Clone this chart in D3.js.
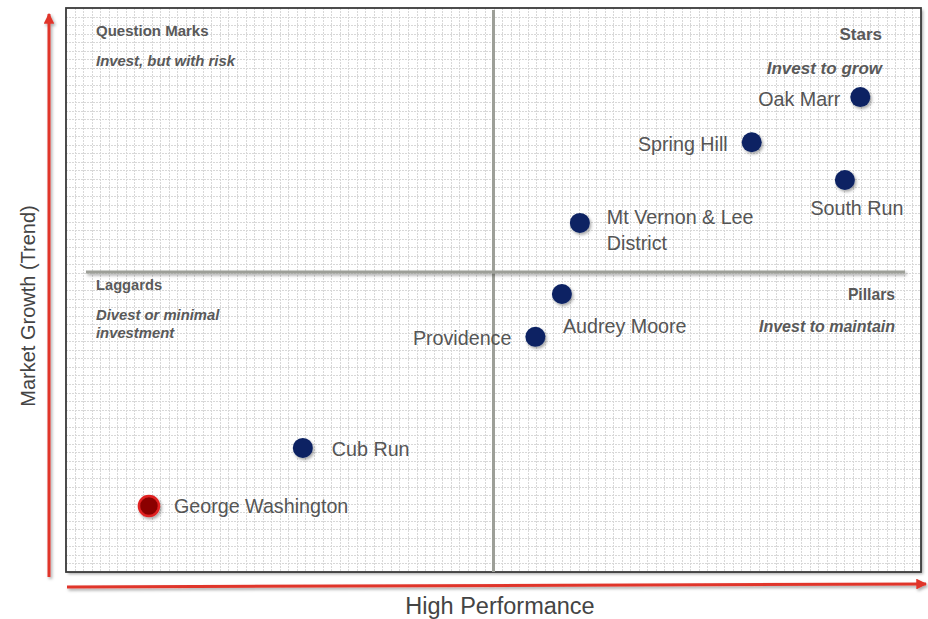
<!DOCTYPE html>
<html><head><meta charset="utf-8">
<script src="https://cdn.jsdelivr.net/npm/d3@7"></script>
<style>body{margin:0;background:#fff;}svg{display:block;font-family:"Liberation Sans",Arial,sans-serif;}</style>
</head><body><svg id="c" width="928" height="619"></svg>
<script>
const names = ["Oak Marr","Spring Hill","South Run","Mt Vernon & Lee District","Audrey Moore","Providence","Cub Run","George Washington"];
const performance = [9.29, 8.02, 9.11, 6.01, 5.80, 5.49, 2.77, 0.97];
const growth = [8.42, 7.62, 6.95, 6.19, 4.93, 4.17, 2.20, 1.17];
const highlight = [false,false,false,false,false,false,false,true];
const quadrants = ["Question Marks","Stars","Laggards","Pillars"];
const quadrantNotes = ["Invest, but with risk","Invest to grow","Divest or minimal investment","Invest to maintain"];
const xDivider = 5, yDivider = 5.32;
const xTitle = "High Performance", yTitle = "Market Growth (Trend)";

const svg = d3.select("#c");
const L=66,R=921,T=8,B=572;
const x = d3.scaleLinear().domain([0,10]).range([L,R]);
const y = d3.scaleLinear().domain([0,10]).range([B,T]);

const defs = svg.append("defs");
function shadow(id,dx,dy,sd,op){
  const f = defs.append("filter").attr("id",id).attr("filterUnits","userSpaceOnUse")
    .attr("x",0).attr("y",0).attr("width",928).attr("height",619);
  f.append("feDropShadow").attr("dx",dx).attr("dy",dy).attr("stdDeviation",sd).attr("flood-color","#000").attr("flood-opacity",op);
}
shadow("sh",2,2,1.5,0.35);
shadow("sh2",1.5,2,1.5,0.35);
defs.append("marker").attr("id","ah").attr("viewBox","0 0 10 10").attr("refX",9).attr("refY",5)
  .attr("markerWidth",3.6).attr("markerHeight",3.6).attr("orient","auto")
  .append("path").attr("d","M0,0L10,5L0,10Z").attr("fill","#e0342b");

// box
svg.append("rect").attr("x",L).attr("y",T).attr("width",R-L).attr("height",B-T)
  .attr("fill","#fff").attr("filter","url(#sh)");
// grid
const gx = d3.scaleLinear().domain([0,100]).range([L,R]);
const gy = d3.scaleLinear().domain([0,66]).range([B,T]);
const grid = svg.append("g").attr("stroke","#d8d8d8").attr("stroke-width",1).attr("stroke-dasharray","2,1");
grid.selectAll("line.v").data(d3.range(1,100)).join("line").attr("class","v")
  .attr("x1",d=>Math.round(gx(d))+0.5).attr("x2",d=>Math.round(gx(d))+0.5).attr("y1",T).attr("y2",B);
grid.selectAll("line.h").data(d3.range(1,66)).join("line").attr("class","h")
  .attr("y1",d=>Math.round(gy(d))+0.5).attr("y2",d=>Math.round(gy(d))+0.5).attr("x1",L).attr("x2",R);
svg.append("rect").attr("x",L).attr("y",T).attr("width",R-L).attr("height",B-T)
  .attr("fill","none").attr("stroke","#3a3a3a").attr("stroke-width",1.8);

// dividers
svg.append("line").attr("x1",x(xDivider)).attr("x2",x(xDivider)).attr("y1",T+2).attr("y2",B)
  .attr("stroke","#9d9f98").attr("stroke-width",3);
svg.append("line").attr("x1",86).attr("x2",905).attr("y1",y(yDivider)).attr("y2",y(yDivider))
  .attr("stroke","#9d9f98").attr("stroke-width",3).attr("filter","url(#sh2)");

// quadrant labels
const qpos = [
  {x:96,y:36,a:"start",ny:[66],ts:15,ns:14.9},
  {x:882,y:40,a:"end",ny:[74],ts:17,ns:17},
  {x:96,y:290,a:"start",ny:[320,338],ts:14.7,ns:14.8},
  {x:895,y:300,a:"end",ny:[332],ts:15.7,ns:16}
];
quadrants.forEach((q,i)=>{
  const p=qpos[i];
  svg.append("text").attr("x",p.x).attr("y",p.y).attr("text-anchor",p.a)
    .attr("font-size",p.ts).attr("font-weight","bold").attr("fill","#595959").text(q);
  const note = quadrantNotes[i];
  const lines = p.ny.length>1 ? ["Divest or minimal","investment"] : [note];
  lines.forEach((t,j)=>svg.append("text").attr("x",p.x).attr("y",p.ny[j]).attr("text-anchor",p.a)
    .attr("font-size",p.ns).attr("font-weight","bold").attr("font-style","italic").attr("fill","#595959").text(t));
});

// points
const data = names.map((n,i)=>({n,px:performance[i],gy:growth[i],h:highlight[i]}));
svg.append("g").selectAll("circle").data(data).join("circle")
  .attr("cx",d=>x(d.px)).attr("cy",d=>y(d.gy)).attr("r",10)
  .attr("fill",d=>d.h?"#8b0000":"#0a2263").attr("stroke",d=>d.h?"#e02020":"none").attr("stroke-width",2.5)
  .attr("filter","url(#sh2)");

// labels: offsets relative to point
const lab = {
  "Oak Marr":{dx:-20,dy:9,a:"end"},
  "Spring Hill":{dx:-24,dy:9,a:"end"},
  "South Run":{dx:12,dy:35,a:"middle"},
  "Mt Vernon & Lee District":{dx:27,dy:1,a:"start",lines:["Mt Vernon & Lee","District"]},
  "Audrey Moore":{dx:1,dy:39,a:"start"},
  "Providence":{dx:-24,dy:8,a:"end"},
  "Cub Run":{dx:29,dy:8,a:"start"},
  "George Washington":{dx:25,dy:7,a:"start"}
};
data.forEach(d=>{
  const o=lab[d.n]; const lines=o.lines||[d.n];
  lines.forEach((t,j)=>svg.append("text").attr("x",x(d.px)+o.dx).attr("y",y(d.gy)+o.dy+j*26)
    .attr("text-anchor",o.a).attr("font-size",19.7).attr("fill","#555").text(t));
});

// arrows
svg.append("line").attr("x1",49).attr("x2",49).attr("y1",577).attr("y2",14)
  .attr("stroke","#e0342b").attr("stroke-width",3).attr("marker-end","url(#ah)").attr("filter","url(#sh2)");
svg.append("line").attr("x1",67).attr("x2",926).attr("y1",587).attr("y2",584)
  .attr("stroke","#e0342b").attr("stroke-width",3).attr("marker-end","url(#ah)").attr("filter","url(#sh2)");

svg.append("text").attr("x",500).attr("y",614).attr("text-anchor","middle").attr("font-size",23.5).attr("fill","#444").text(xTitle);
svg.append("text").attr("transform","translate(35,306) rotate(-90)").attr("text-anchor","middle").attr("font-size",20).attr("fill","#444").text(yTitle);
</script></body></html>
